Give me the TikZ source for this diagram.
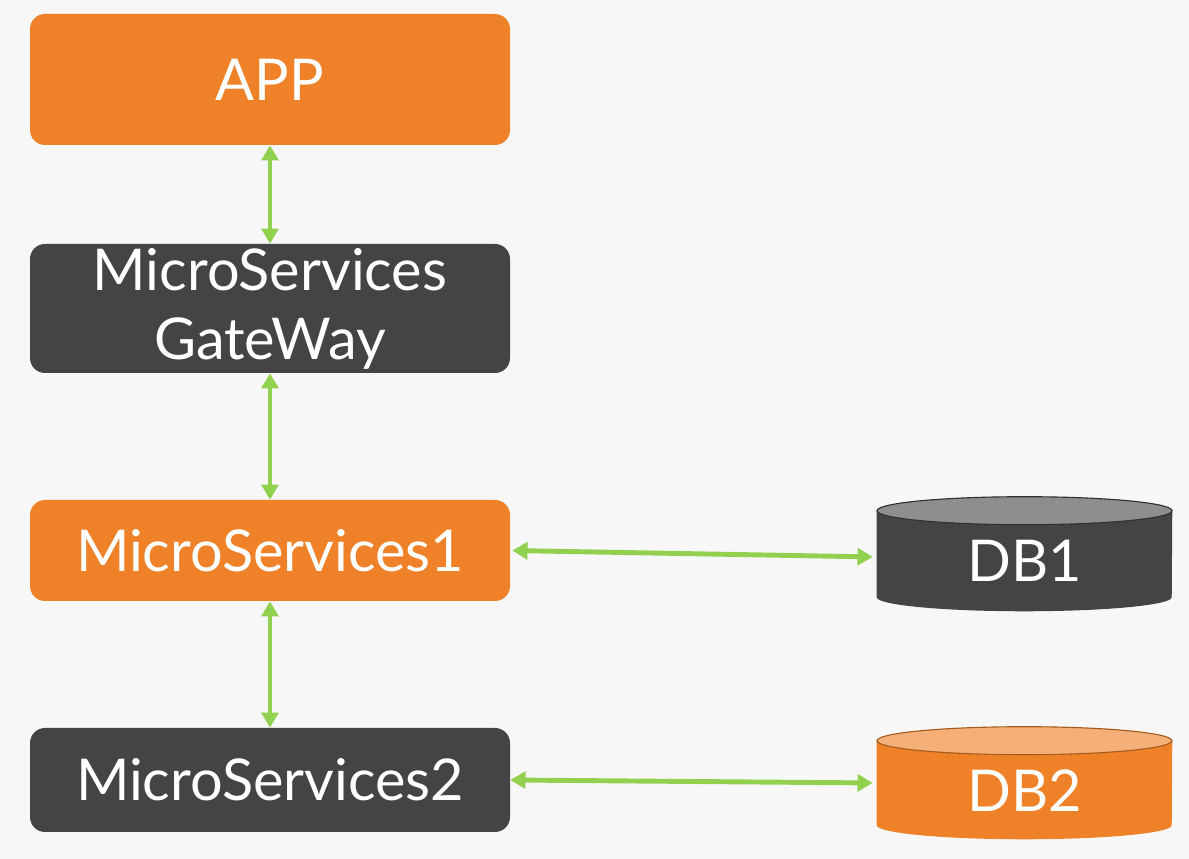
\documentclass[tikz,border=0pt]{standalone}
\usepackage{fontspec}
\setmainfont{Lato}
\usetikzlibrary{arrows.meta}
\definecolor{bgcol}{HTML}{F7F7F7}
\definecolor{appor}{HTML}{EF8228}
\definecolor{orlite}{HTML}{F5B07A}
\definecolor{darkbox}{HTML}{444444}
\definecolor{dbtop}{HTML}{8E8E8E}
\definecolor{linkgreen}{HTML}{92D050}
\tikzset{
  svcbox/.style={rounded corners=.375cm, minimum width=12cm, inner sep=0pt,
    text=white, align=center, font=\fontsize{41}{49}\selectfont},
  orbox/.style={svcbox, fill=appor},
  graybox/.style={svcbox, fill=darkbox},
  dbbox/.style={minimum width=7.375cm, inner sep=0pt},
  dblabel/.style={text=white, font=\fontsize{41}{49}\selectfont},
  link/.style={linkgreen, line width=3.5pt, {Triangle[width=.42cm,length=.38cm]}-{Triangle[width=.42cm,length=.38cm]}}
}
% cylinder round a named box: #1 name, #2 body colour, #3 top colour
\newcommand{\dbcyl}[3]{
  \fill[#2] ([yshift=-.35cm]#1.north west) -- ([yshift=.35cm]#1.south west)
    arc[start angle=180, end angle=360, x radius=3.6875cm, y radius=.35cm]
    -- ([yshift=-.35cm]#1.north east) -- cycle;
  \draw[#2!70!black, fill=#3, line width=.8pt] ([yshift=-.35cm]#1.north)
    ellipse[x radius=3.6875cm, y radius=.35cm];
}

\begin{document}
\begin{tikzpicture}
\useasboundingbox[fill=bgcol] (0,0) rectangle (29.725,21.475);

\node[orbox, minimum height=3.275cm] (app) at (6.75,19.4875) {APP};
\node[graybox, minimum height=3.225cm] (gw) at (6.75,13.7625) {MicroServices\\GateWay};
\node[orbox, minimum height=2.525cm] (ms1) at (6.75,7.7125) {MicroServices1};
\node[graybox, minimum height=2.6cm] (ms2) at (6.75,1.975) {MicroServices2};

\node[dbbox, minimum height=2.85cm] (db1) at (25.6125,7.625) {};
\node[dbbox, minimum height=2.8cm] (db2) at (25.6125,1.9) {};
\dbcyl{db1}{darkbox}{dbtop}
\dbcyl{db2}{appor}{orlite}
\node[dblabel] (db1text) at ([yshift=-.18cm]db1.center) {DB1};
\node[dblabel] (db2text) at ([yshift=-.18cm]db2.center) {DB2};

\draw[link] (app) -- (gw);
\draw[link] (gw) -- (ms1);
\draw[link] (ms1) -- (ms2);
\draw[link, shorten >=.1cm, shorten <=.05cm] (ms1.east) -- ([yshift=-.075cm]db1.west);
\draw[link, shorten >=.1cm] (ms2.east) -- (db2.west);
\end{tikzpicture}
\end{document}
